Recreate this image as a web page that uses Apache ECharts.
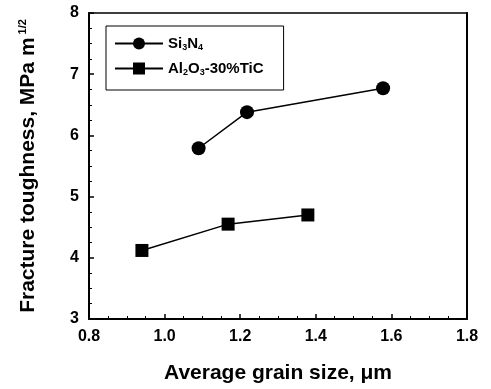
<!DOCTYPE html>
<html><head><meta charset="utf-8">
<script src="https://cdn.jsdelivr.net/npm/echarts@6/dist/echarts.min.js"></script>
<style>html,body{margin:0;padding:0;background:#fff}#c{width:491px;height:389px}</style>
</head><body><div id="c"></div>
<script>
var si3n4X = [1.09, 1.218, 1.578];
var si3n4Y = [5.79, 6.38, 6.77];
var aloX = [0.94, 1.168, 1.379];
var aloY = [4.12, 4.55, 4.70];
var seriesNames = ['Si3N4', 'Al2O3-30%TiC'];
var xTicks = [0.8, 1.0, 1.2, 1.4, 1.6, 1.8];
var yTicks = [3, 4, 5, 6, 7, 8];

function pairs(xs, ys){ return xs.map(function(x,i){return [x, ys[i]];}); }
var font = 'Liberation Sans, Arial, sans-serif';
var chart = echarts.init(document.getElementById('c'));
var axisCommon = {
  axisLine:{show:true,onZero:false,lineStyle:{color:'#000',width:2}},
  axisTick:{show:true,inside:true,length:5,lineStyle:{color:'#000',width:1.5}},
  minorTick:{show:true,splitNumber:4,length:3,lineStyle:{color:'#000',width:1}},
  splitLine:{show:false}
};
chart.setOption({
  animation:false,
  backgroundColor:'#fff',
  grid:{left:89,top:13,right:24,bottom:70,containLabel:false},
  legend:{
    left:106, top:26, orient:'vertical', itemGap:9,
    itemWidth:48, itemHeight:15,
    borderColor:'#000', borderWidth:1, padding:[10,20,13,8],
    data:seriesNames,
    formatter:function(n){ return n==='Si3N4' ? '{b|Si}{s|3}{b|N}{s|4}' : '{b|Al}{s|2}{b|O}{s|3}{b|-30%TiC}'; },
    textStyle:{fontFamily:font,rich:{
      b:{fontSize:15,fontWeight:'bold',fontFamily:font,color:'#000'},
      s:{fontSize:9,fontWeight:'bold',fontFamily:font,color:'#000',verticalAlign:'bottom',padding:[8,0,0,0]}
    }}
  },
  xAxis:[Object.assign({
    type:'value', min:xTicks[0], max:xTicks[xTicks.length-1], interval:0.2,
    name:'Average grain size, \u03bcm', nameLocation:'middle', nameGap:44,
    nameTextStyle:{fontFamily:font,fontSize:21,fontWeight:'bold',color:'#000'},
    axisLabel:{fontFamily:font,fontSize:16,fontWeight:'bold',color:'#000',margin:10,
      formatter:function(v){return v.toFixed(1);}}
  }, axisCommon),
  {type:'value',position:'top',min:xTicks[0],max:xTicks[xTicks.length-1],
   axisLine:{show:true,lineStyle:{color:'#000',width:1.5}},axisTick:{show:false},axisLabel:{show:false},splitLine:{show:false}}],
  yAxis:[Object.assign({
    type:'value', min:yTicks[0], max:yTicks[yTicks.length-1], interval:1,
    name:'{a|Fracture toughness, MPa m}{s|1/2}', nameLocation:'middle', nameGap:49,
    nameTextStyle:{rich:{
      a:{fontFamily:font,fontSize:21,fontWeight:'bold',color:'#000'},
      s:{fontFamily:font,fontSize:11,fontWeight:'bold',color:'#000',verticalAlign:'top',padding:[0,0,12,3]}
    }},
    axisLabel:{fontFamily:font,fontSize:16,fontWeight:'bold',color:'#000',margin:10}
  }, axisCommon),
  {type:'value',position:'right',min:yTicks[0],max:yTicks[yTicks.length-1],
   axisLine:{show:true,lineStyle:{color:'#000',width:2}},axisTick:{show:false},axisLabel:{show:false},splitLine:{show:false}}],
  series:[
    {name:seriesNames[0],type:'line',data:pairs(si3n4X,si3n4Y),symbol:'circle',symbolSize:14,
     lineStyle:{color:'#000',width:1.5},itemStyle:{color:'#000'}},
    {name:seriesNames[1],type:'line',data:pairs(aloX,aloY),symbol:'rect',symbolSize:13,
     lineStyle:{color:'#000',width:1.5},itemStyle:{color:'#000'}}
  ]
});
</script></body></html>
